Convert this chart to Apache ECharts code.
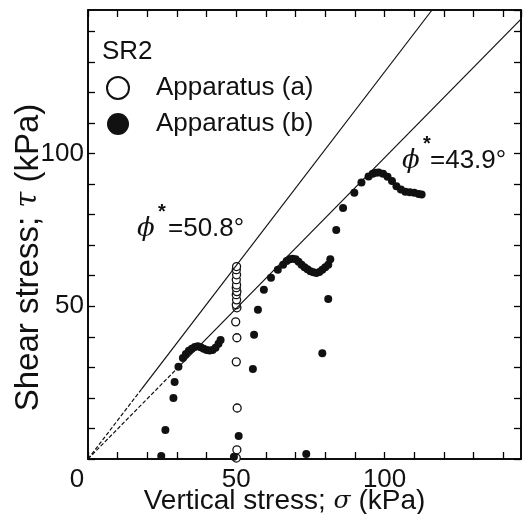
<!DOCTYPE html>
<html>
<head>
<meta charset="utf-8">
<script src="https://cdn.jsdelivr.net/npm/echarts@6/dist/echarts.min.js"></script>
<style>
  html, body { margin: 0; padding: 0; background: #fff; }
  #chart { width: 523px; height: 514px; }
</style>
</head>
<body>
<div id="chart"></div>
<script>
// values (sigma kPa, tau kPa)
const apparatusA = [
  [50.0, 0.3], [50.2, 3.0], [50.3, 16.7], [50.0, 31.8], [50.2, 39.7], [49.8, 44.9],
  [50.2, 49.5], [50.0, 50.5], [50.1, 52.1], [50.0, 53.8], [50.2, 54.8], [50.0, 56.1],
  [50.1, 57.0], [50.0, 58.7], [50.1, 60.3], [50.0, 62.0], [50.1, 63.0]
];
const bStage1 = [
  [24.7, 1.0], [26.1, 9.5], [28.8, 20.0], [29.2, 25.2], [30.5, 30.2],
  [32.0, 33.1], [33.0, 34.4], [34.0, 35.4], [35.0, 36.1], [36.0, 36.7], [37.0, 36.9],
  [38.0, 36.6], [39.0, 36.1], [40.0, 35.7], [41.0, 35.5], [42.0, 35.7], [43.0, 36.4],
  [44.0, 37.7], [44.7, 39.0]
];
const bStage2 = [
  [49.2, 0.7], [50.8, 7.5], [55.6, 29.5], [56.0, 40.7], [57.3, 48.9], [59.3, 55.4],
  [61.7, 59.3], [64.0, 62.0], [65.8, 63.6], [67.0, 64.8], [68.0, 65.4], [69.0, 65.6],
  [70.0, 65.4], [71.0, 64.6], [72.0, 63.6], [73.0, 62.8], [74.0, 62.1], [75.0, 61.5],
  [76.0, 61.1], [77.0, 60.9], [78.0, 61.2], [79.0, 62.0], [80.0, 62.8], [81.0, 63.6],
  [81.7, 65.4]
];
const bStage3 = [
  [73.6, 1.6], [79.0, 34.6], [81.0, 52.4], [83.7, 75.0], [86.0, 82.2], [89.8, 87.2],
  [92.2, 90.5], [94.6, 92.5], [96.0, 93.4], [97.0, 93.7], [98.0, 93.8], [99.5, 93.4],
  [101.0, 92.4], [102.5, 91.0], [104.0, 89.3], [105.5, 88.2], [107.0, 87.5],
  [108.5, 87.3], [110.0, 87.2], [111.5, 86.8], [112.5, 86.6]
];
// failure envelopes (dashed near the origin, solid beyond)
const envelope508Dash = [[0, 0], [18, 22.8]];
const envelope508 = [[18, 22.8], [116, 147]];
const envelope439Dash = [[0, 0], [30, 29.6]];
const envelope439 = [[30, 29.6], [146, 144]];

const xMax = 146, yMax = 147;
const labelTicks = [50, 100];

var myChart = echarts.init(document.getElementById('chart'));

const font = 'Liberation Sans, Arial, sans-serif';
const tickCommon = { show: true, inside: true, length: 7, lineStyle: { color: '#000', width: 1.3 } };
const lineCommon = { show: true, onZero: false, lineStyle: { color: '#000', width: 1.6 } };

function envLine(name, data, dashed) {
  return {
    name: name, type: 'line', data: data, symbol: 'none', silent: true,
    lineStyle: { color: '#111', width: 1.2, type: dashed ? [4, 2] : 'solid' }
  };
}

let option = {
  animation: false,
  backgroundColor: '#fff',
  title: {
    text: 'SR2',
    left: 97, top: 34,
    textStyle: { fontFamily: font, fontSize: 26, fontWeight: 'normal', color: '#111' }
  },
  legend: {
    orient: 'vertical',
    left: 101, top: 70,
    itemWidth: 22, itemHeight: 22, itemGap: 10,
    icon: 'circle',
    textStyle: { fontFamily: font, fontSize: 26, color: '#111', padding: [0, 0, 0, 22] },
    data: ['Apparatus (a)', 'Apparatus (b)']
  },
  grid: {
    left: 88, right: 2, top: 10, bottom: 55, outerBoundsMode: 'none',
    show: true, borderColor: '#000', borderWidth: 1.5
  },
  xAxis: [{
    type: 'value', min: 0, max: xMax, interval: 10,
    name: '{n|Vertical stress; }{g|σ}{n| (kPa)}',
    nameLocation: 'middle', nameGap: 28, nameMoveOverlap: false,
    nameTextStyle: {
      padding: [0, 40, 0, 0],
      rich: {
        n: { fontFamily: font, fontSize: 28, color: '#111' },
        g: { fontFamily: 'DejaVu Serif', fontStyle: 'italic', fontSize: 25, color: '#111' }
      }
    },
    axisLine: lineCommon, axisTick: tickCommon, splitLine: { show: false },
    axisLabel: {
      margin: 8, fontFamily: font, fontSize: 26, color: '#111', showMaxLabel: false,
      formatter: function (v) {
        if (v === 0) return '{z|0}';
        return labelTicks.indexOf(v) >= 0 ? String(v) : '';
      },
      rich: { z: { fontFamily: font, fontSize: 26, color: '#111', padding: [0, 22, 0, 0] } }
    }
  }, {
    type: 'value', min: 0, max: xMax, interval: 10, position: 'top',
    axisLine: lineCommon, axisTick: tickCommon, axisLabel: { show: false }, splitLine: { show: false }
  }],
  yAxis: [{
    type: 'value', min: 0, max: yMax, interval: 10,
    name: '{n|Shear stress; }{g|τ}{n| (kPa)}',
    nameLocation: 'middle', nameGap: 43, nameMoveOverlap: false,
    nameTextStyle: {
      padding: [0, 46, 0, 0],
      rich: {
        n: { fontFamily: font, fontSize: 33, color: '#111' },
        g: { fontFamily: 'DejaVu Serif', fontStyle: 'italic', fontSize: 29, color: '#111' }
      }
    },
    axisLine: lineCommon, axisTick: tickCommon, splitLine: { show: false },
    axisLabel: {
      margin: 4, fontFamily: font, fontSize: 26, color: '#111', showMaxLabel: false,
      formatter: function (v) { return labelTicks.indexOf(v) >= 0 ? String(v) : ''; }
    }
  }, {
    type: 'value', min: 0, max: yMax, interval: 10, position: 'right',
    axisLine: lineCommon, axisTick: tickCommon, axisLabel: { show: false }, splitLine: { show: false }
  }],
  graphic: [
    { type: 'text', left: 137, top: 216, style: { text: 'ϕ', font: 'italic 26px DejaVu Serif', fill: '#111' } },
    { type: 'text', left: 158, top: 202, style: { text: '*', font: 'bold 20px ' + font, fill: '#111' } },
    { type: 'text', left: 168, top: 216, style: { text: '=50.8°', font: '26px ' + font, fill: '#111' } },
    { type: 'text', left: 402, top: 148, style: { text: 'ϕ', font: 'italic 26px DejaVu Serif', fill: '#111' } },
    { type: 'text', left: 423, top: 134, style: { text: '*', font: 'bold 20px ' + font, fill: '#111' } },
    { type: 'text', left: 430, top: 148, style: { text: '=43.9°', font: '26px ' + font, fill: '#111' } }
  ],
  series: [
    envLine('phi50.8 near', envelope508Dash, true),
    envLine('phi50.8', envelope508, false),
    envLine('phi43.9 near', envelope439Dash, true),
    envLine('phi43.9', envelope439, false),
    {
      name: 'Apparatus (a)', type: 'scatter', data: apparatusA, symbol: 'circle', symbolSize: 8,
      itemStyle: { color: '#fff', borderColor: '#111', borderWidth: 1.3, opacity: 1 }
    },
    {
      name: 'Apparatus (b)', type: 'scatter', data: bStage1.concat(bStage2, bStage3),
      symbol: 'circle', symbolSize: 8,
      itemStyle: { color: '#111', opacity: 1 }
    }
  ]
};

myChart.setOption(option);
window.addEventListener('resize', function () {
  myChart.resize();
});
</script>
</body>
</html>
